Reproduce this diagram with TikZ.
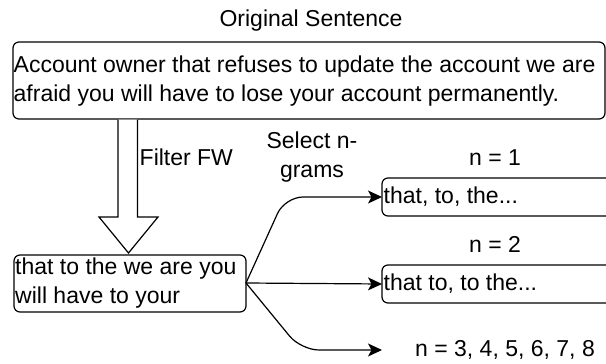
\documentclass[tikz,border=0pt]{standalone}
\usepackage{fontspec}
\setmainfont{Liberation Sans}
\usetikzlibrary{arrows.meta}
\begin{document}
\begin{tikzpicture}[x=1pt,y=-1pt,
  box/.style={draw,line width=1.2pt,rounded corners=6pt},
  txt/.style={inner sep=0pt,font=\fontsize{23}{29}\selectfont,align=left},
  conn/.style={line width=1.2pt,rounded corners=18pt,-{Stealth[length=14pt,width=13pt,inset=3.5pt]}}]
\clip (0,0) rectangle (606,364);
\useasboundingbox (0,0) rectangle (606,364);
% title
\node[txt,anchor=center] (title) at (311,21) {Original Sentence};
% top box
\draw[box] (13,42) rectangle (605,119);
\node[txt,anchor=west] (orig) at (13.5,81) {Account owner that refuses to update the account we are\\afraid you will have to lose your account permanently.};
% block arrow
\draw[line width=1.2pt,fill=white] (118,119.6) -- (118,217) -- (99,217) -- (128.5,253) -- (158,217) -- (137.5,217) -- (137.5,119.6);
\node[txt,anchor=west] (filter) at (139.5,157) {Filter FW};
% bottom box
\draw[box] (14,255) rectangle (246,312);
\node[txt,anchor=west] (filt) at (15,283) {that to the we are you\\will have to your};
\coordinate (src) at (246,283);
% label
\node[txt,align=center] (sel) at (312,157) {Select n-\\grams};
% n=1
\node[txt] (n1) at (495,158) {n = 1};
\draw[box] (382,178) rectangle (620,216);
\node[txt,anchor=west] (t1) at (383.5,197) {that, to, the...};
\coordinate (a1) at (382,197);
% n=2
\node[txt] (n2) at (495,244) {n = 2};
\draw[box] (382,265) rectangle (620,303);
\node[txt,anchor=west] (t2) at (383.5,284) {that to, to the...};
\coordinate (a2) at (382,284);
% n=3..8
\node[txt] (n3) at (505,350) {n = 3, 4, 5, 6, 7, 8};
\coordinate (a3) at (382,350);
% connectors
\draw[conn] (src) -- (285,197) -- (a1);
\draw[conn] (src) -- (a2);
\draw[conn] (src) -- (301,350) -- (a3);
\end{tikzpicture}
\end{document}
